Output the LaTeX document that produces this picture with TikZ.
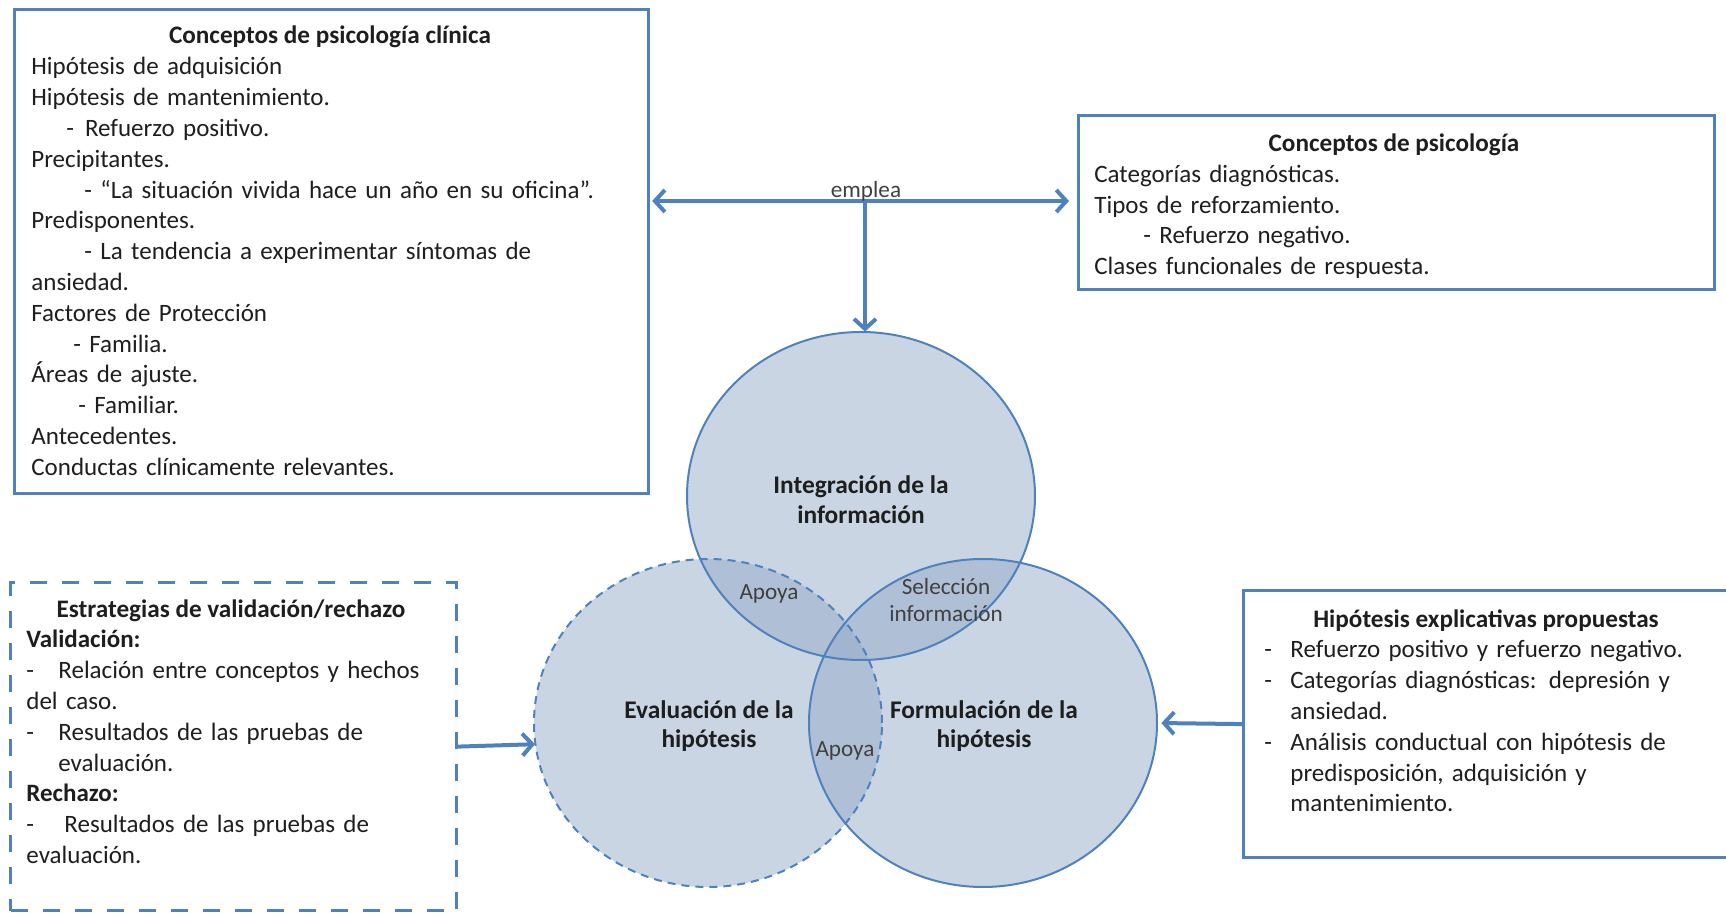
\documentclass[tikz,border=0pt]{standalone}
\usepackage{fontspec}
\setmainfont{Carlito}
\usetikzlibrary{arrows.meta,shapes.geometric}
\definecolor{bordblue}{RGB}{79,129,189}
\definecolor{circfill}{RGB}{149,171,201}
\definecolor{txt}{RGB}{30,30,30}
\tikzset{
  mybarb/.tip={Straight Barb[length=5pt,width=11pt]},
  box/.style={draw=bordblue, line width=1.6pt, rectangle, inner sep=0pt, anchor=north west},
  dbox/.style={box, dash pattern=on 8.5pt off 7.5pt},
  body/.style={anchor=base west, align=left, text width=300pt, inner sep=0pt, text=txt,
    font=\fontsize{12.5}{15.4}\selectfont},
  ttl/.style={anchor=base, inner sep=0pt, text=txt, font=\bfseries\fontsize{12.6}{15.4}\selectfont},
  circ/.style={ellipse, minimum width=174pt, minimum height=164pt, inner sep=0pt,
    fill=circfill, fill opacity=0.5},
  circlab/.style={align=center, inner sep=0pt, text=txt, font=\bfseries\fontsize{12.7}{14.9}\selectfont},
  small/.style={align=center, inner sep=0pt, text=txt!85, font=\fontsize{11.6}{13.7}\selectfont},
  arr/.style={draw=bordblue, line width=2pt},
  edge/.style={draw=bordblue, line width=1pt}
}
\begin{document}
\begin{tikzpicture}[x=0.5pt,y=-0.5pt]
\useasboundingbox (0,0) rectangle (1726,913);

% boxes
\node[box, minimum width=317pt, minimum height=242pt] (box1) at (13,8) {};
\node[box, minimum width=318pt, minimum height=87pt] (box2) at (1077,114) {};
\node[dbox, minimum width=223pt, minimum height=164pt] (box3) at (9,581) {};
\node[box, minimum width=249pt, minimum height=133.5pt] (box4) at (1242,589) {};

% box 1 text
\node[ttl] (t1) at (330,44) {Conceptos de psicología clínica};
\node[body] (b1) at (31,75) {Hipótesis de adquisición\\
Hipótesis de mantenimiento.\\
\hspace*{17.5pt}-\hspace{5.5pt}Refuerzo positivo.\\
Precipitantes.\\
\hspace*{26.5pt}- “La situación vivida hace un año en su oficina”.\\
Predisponentes.\\
\hspace*{26.5pt}- La tendencia a experimentar síntomas de\\
ansiedad.\\
Factores de Protección\\
\hspace*{21pt}- Familia.\\
Áreas de ajuste.\\
\hspace*{23.5pt}- Familiar.\\
Antecedentes.\\
Conductas clínicamente relevantes.};

% box 2 text
\node[ttl] (t2) at (1394,152) {Conceptos de psicología};
\node[body, font=\fontsize{12.5}{15.2}\selectfont] (b2) at (1094,183) {Categorías diagnósticas.\\
Tipos de reforzamiento.\\
\hspace*{24.5pt}- Refuerzo negativo.\\
Clases funcionales de respuesta.};

% box 3 text
\node[ttl] (t3) at (231,618) {Estrategias de validación/rechazo};
\node[body] (b3) at (26,648) {\textbf{Validación:}\\
\makebox[16pt][l]{-}Relación entre conceptos y hechos\\
del caso.\\
\makebox[16pt][l]{-}Resultados de las pruebas de\\
\hspace*{16pt}evaluación.\\
\textbf{Rechazo:}\\
\makebox[19pt][l]{-}Resultados de las pruebas de\\
evaluación.};

% box 4 text
\node[ttl] (t4) at (1486,628) {Hipótesis explicativas propuestas};
\node[body, text width=240pt] (b4) at (1264,658) {\makebox[13pt][l]{-}Refuerzo positivo y refuerzo negativo.\\
\makebox[13pt][l]{-}Categorías diagnósticas: depresión y\\
\hspace*{13pt}ansiedad.\\
\makebox[13pt][l]{-}Análisis conductual con hipótesis de\\
\hspace*{13pt}predisposición, adquisición y\\
\hspace*{13pt}mantenimiento.};

% circles (fills)
\node[circ] (top) at (861,496) {};
\node[circ] (left) at (708,723) {};
\node[circ] (right) at (983,723) {};
% circle borders
\draw[edge] (top.center) ellipse [x radius=87pt, y radius=82pt];
\draw[edge, dash pattern=on 4pt off 3pt] (left.center) ellipse [x radius=87pt, y radius=82pt];
\draw[edge] (right.center) ellipse [x radius=87pt, y radius=82pt];

% circle labels
\node[circlab] (ltop) at (861,500) {Integración de la\\información};
\node[circlab] (lleft) at (709,726) {Evaluación de la\\hipótesis};
\node[circlab] (lright) at (984,726) {Formulación de la\\hipótesis};
\node[small] (ap1) at (769,594) {Apoya};
\node[small] (sel) at (946,600) {Selección\\información};
\node[small] (ap2) at (845,751) {Apoya};

% connectors
\coordinate (j) at (865,201);
\draw[arr, {mybarb}-{mybarb}, shorten <=1pt, shorten >=4pt] (box1.east |- j) -- (box2.west |- j);
\draw[arr, -{mybarb}] (j) -- (top.north -| j);
\node[small, anchor=base] (emp) at (866,198) {emplea};
\draw[arr, -{mybarb}] (box3.east) -- (left.187);
\draw[arr, -{mybarb}, shorten >=2pt] (box4.west) -- (right.east);
\end{tikzpicture}
\end{document}
